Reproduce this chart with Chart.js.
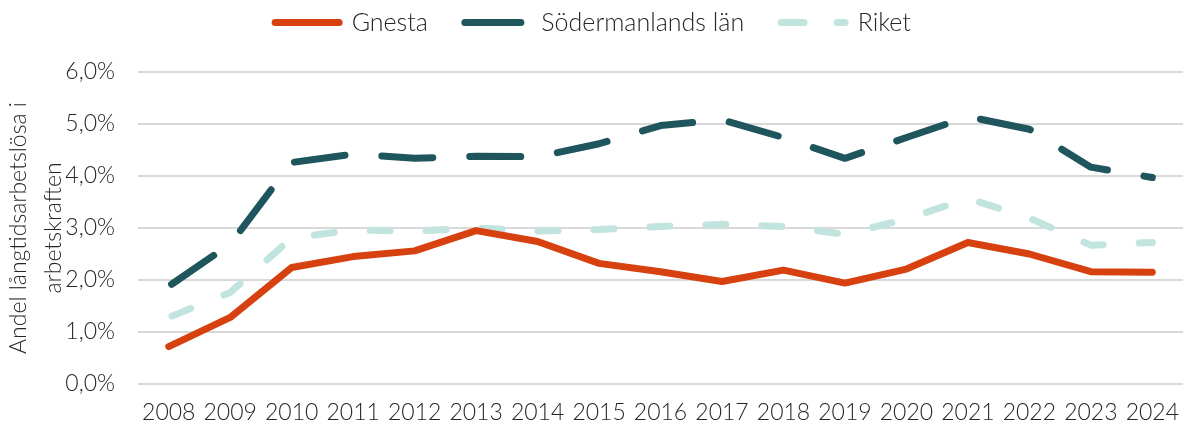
<!DOCTYPE html>
<html>
<head>
<meta charset="utf-8">
<script src="https://cdn.jsdelivr.net/npm/chart.js@4/dist/chart.umd.min.js"></script>
<style>
  html, body { margin: 0; padding: 0; background: #fff; }
  #wrap { width: 1186px; height: 423px; position: relative; }
</style>
</head>
<body>
<div id="wrap"><canvas id="myChart"></canvas></div>
<script>
// data (percent of labour force)
const years = ['2008', '2009', '2010', '2011', '2012', '2013', '2014', '2015', '2016',
    '2017', '2018', '2019', '2020', '2021', '2022', '2023', '2024'];
const gnesta = [0.72, 1.28, 2.24, 2.45, 2.56, 2.95, 2.74, 2.32, 2.16, 1.97, 2.19, 1.94, 2.21, 2.72, 2.50, 2.16, 2.15];
const sodermanland = [1.88, 2.69, 4.26, 4.42, 4.34, 4.38, 4.37, 4.62, 4.97, 5.08, 4.74, 4.34, 4.74, 5.14, 4.90, 4.17, 3.97];
const riket = [1.28, 1.76, 2.81, 2.96, 2.94, 3.00, 2.94, 2.97, 3.03, 3.07, 3.03, 2.88, 3.17, 3.57, 3.19, 2.67, 2.72];
const yTicks = [0, 1, 2, 3, 4, 5, 6];

Chart.defaults.font.family = "Lato, 'Open Sans', sans-serif";
Chart.defaults.font.weight = 300;
Chart.defaults.color = '#262626';

// legend swatch dashes (dash on the left, like the original)
const legendDash = [[], [56, 40], [23, 33]];

// legend box height is fixed so the plot starts at the 6% line
const legendHeight = {
    id: 'legendHeight',
    beforeLayout(chart) {
        const lg = chart.legend;
        if (lg && !lg._patched) {
            const fit = lg.fit;
            lg.fit = function() {
                fit.call(this);
                this.height = 99;
            };
            lg._patched = true;
        }
    }
};

let ctx = document.getElementById('myChart').getContext('2d');

let myChart = new Chart(ctx, {
    type: 'line',
    data: {
        labels: years,
        datasets: [{
                label: 'Gnesta',
                data: gnesta,
                borderColor: '#D7410F',
                backgroundColor: 'transparent',
                borderWidth: 7,
                borderCapStyle: 'round',
                borderJoinStyle: 'round',
                pointRadius: 0,
            },
            {
                label: 'Södermanlands län',
                data: sodermanland,
                borderColor: '#1F555C',
                backgroundColor: 'transparent',
                borderWidth: 7,
                borderDash: [51, 37],
                borderDashOffset: -3.5,
                borderCapStyle: 'round',
                borderJoinStyle: 'round',
                pointRadius: 0,
            },
            {
                label: 'Riket',
                data: riket,
                borderColor: '#C1E4DF',
                backgroundColor: 'transparent',
                borderWidth: 7,
                borderDash: [20, 36],
                borderDashOffset: -3.5,
                borderCapStyle: 'round',
                borderJoinStyle: 'round',
                pointRadius: 0,
            },
        ],
    },
    plugins: [legendHeight],
    options: {
        responsive: true,
        maintainAspectRatio: false,
        animation: false,
        elements: {
            line: {
                tension: 0
            }
        },
        layout: {
            padding: { top: -27, right: 0, bottom: 0, left: 0 }
        },
        scales: {
            x: {
                offset: true,
                grid: { display: false },
                border: { display: false },
                afterFit: function(scale) {
                    scale.height = 39;
                },
                ticks: {
                    font: { size: 23, weight: 300 },
                    color: '#262626',
                    padding: 7,
                    maxRotation: 0,
                    autoSkip: false,
                }
            },
            y: {
                min: 0,
                max: 6,
                afterBuildTicks: function(scale) {
                    scale.ticks = yTicks.map(v => ({ value: v }));
                },
                afterFit: function(scale) {
                    scale.width = 138;
                },
                grid: {
                    color: '#D9D9D9',
                    lineWidth: 2,
                    drawTicks: false,
                },
                border: { display: false },
                ticks: {
                    font: { size: 23, weight: 300 },
                    color: '#262626',
                    padding: 23,
                    callback: function(value) {
                        return value.toFixed(1).replace('.', ',') + '%';
                    }
                },
                title: {
                    display: true,
                    text: ['Andel långtidsarbetslösa i', 'arbetskraften'],
                    font: { size: 23, weight: 300, lineHeight: '35px' },
                    color: '#262626',
                    padding: { top: 1, bottom: 0 },
                }
            }
        },
        plugins: {
            legend: {
                display: true,
                position: 'top',
                labels: {
                    usePointStyle: true,
                    pointStyle: 'line',
                    pointStyleWidth: 64,
                    padding: 37,
                    color: '#262626',
                    font: { size: 25, weight: 300 },
                    generateLabels: function(chart) {
                        const items = Chart.defaults.plugins.legend.labels.generateLabels(chart);
                        items.forEach((item, i) => {
                            item.lineDash = legendDash[i];
                            item.lineDashOffset = 0;
                            item.lineCap = 'round';
                        });
                        return items;
                    }
                }
            },
            tooltip: { enabled: false }
        },
    },
});
</script>
</body>
</html>
